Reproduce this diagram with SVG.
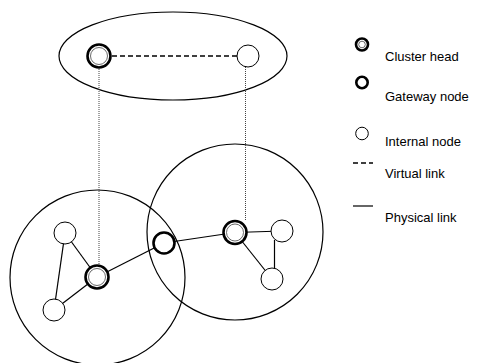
<svg xmlns="http://www.w3.org/2000/svg" width="494" height="363" viewBox="0 0 494 363">
<style>
.bg{fill:#fff}
.big{fill:none;stroke:#000;stroke-width:1.2}
.edge{stroke:#000;stroke-width:1.2;fill:none}
.dot{stroke:#444;stroke-width:1;stroke-dasharray:1 1;fill:none}
.dash{stroke:#000;stroke-width:1.3;stroke-dasharray:5 3;fill:none}
.int{fill:#fff;stroke:#000;stroke-width:1}
.gw{fill:#fff;stroke:#000;stroke-width:2.6}
.chi{fill:#fff;stroke:#444;stroke-width:0.8}
text{font-family:"Liberation Sans",Arial,sans-serif;font-size:13px;fill:#000}
</style>
<rect class="bg" x="0" y="0" width="494" height="363"/>
<g id="clusters">
<ellipse class="big" cx="173" cy="56" rx="114" ry="44"/>
<circle class="big" cx="97.5" cy="277.5" r="87.5"/>
<circle class="big" cx="235" cy="232" r="88"/>
</g>
<g id="connectors">
<line class="dash" x1="112" y1="56" x2="237" y2="56"/>
<line class="dot" x1="99" y1="69" x2="99" y2="264"/>
<line class="dot" x1="245.5" y1="67" x2="245.5" y2="220"/>
<line class="edge" x1="97" y1="277" x2="65" y2="233"/>
<line class="edge" x1="97" y1="277" x2="54" y2="310"/>
<line class="edge" x1="65" y1="233" x2="54" y2="310"/>
<line class="edge" x1="97" y1="277" x2="164" y2="243"/>
<line class="edge" x1="164" y1="243" x2="235" y2="232.5"/>
<line class="edge" x1="235" y1="232.5" x2="282" y2="231"/>
<line class="edge" x1="235" y1="232.5" x2="272" y2="279"/>
<line class="edge" x1="274.5" y1="240" x2="274.5" y2="268"/>
</g>
<g id="ch-top"><circle class="gw" cx="99" cy="56" r="11.5"/><circle class="chi" cx="99" cy="56" r="8.5"/></g>
<g id="in-top"><circle class="int" cx="248" cy="56" r="11"/></g>
<g id="ch-left"><circle class="gw" cx="97" cy="277" r="11.5"/><circle class="chi" cx="97" cy="277" r="8.5"/></g>
<g id="in-l1"><circle class="int" cx="65" cy="233" r="11"/></g>
<g id="in-l2"><circle class="int" cx="54" cy="310" r="11"/></g>
<g id="gw"><circle class="gw" cx="164" cy="243" r="10.5"/></g>
<g id="ch-right"><circle class="gw" cx="235" cy="232.5" r="11.5"/><circle class="chi" cx="235" cy="232.5" r="8.5"/></g>
<g id="in-r1"><circle class="int" cx="282" cy="231" r="11"/></g>
<g id="in-r2"><circle class="int" cx="272" cy="279" r="11"/></g>
<g id="legend">
<circle cx="362" cy="44.5" r="6" fill="#fff" stroke="#000" stroke-width="2.6"/>
<circle cx="362" cy="44.5" r="3.3" fill="#fff" stroke="#444" stroke-width="0.8"/>
<text x="385" y="61">Cluster head</text>
<circle cx="362" cy="82.5" r="5.7" fill="#fff" stroke="#000" stroke-width="2.6"/>
<text x="385" y="101">Gateway node</text>
<circle cx="362" cy="133.5" r="6.3" fill="#fff" stroke="#000" stroke-width="1"/>
<text x="385" y="146">Internal node</text>
<line class="dash" x1="353" y1="163" x2="373" y2="163" stroke-dasharray="6 5"/>
<text x="385" y="178">Virtual link</text>
<line class="edge" x1="353" y1="206" x2="373" y2="206"/>
<text x="385" y="222">Physical link</text>
</g>
</svg>
